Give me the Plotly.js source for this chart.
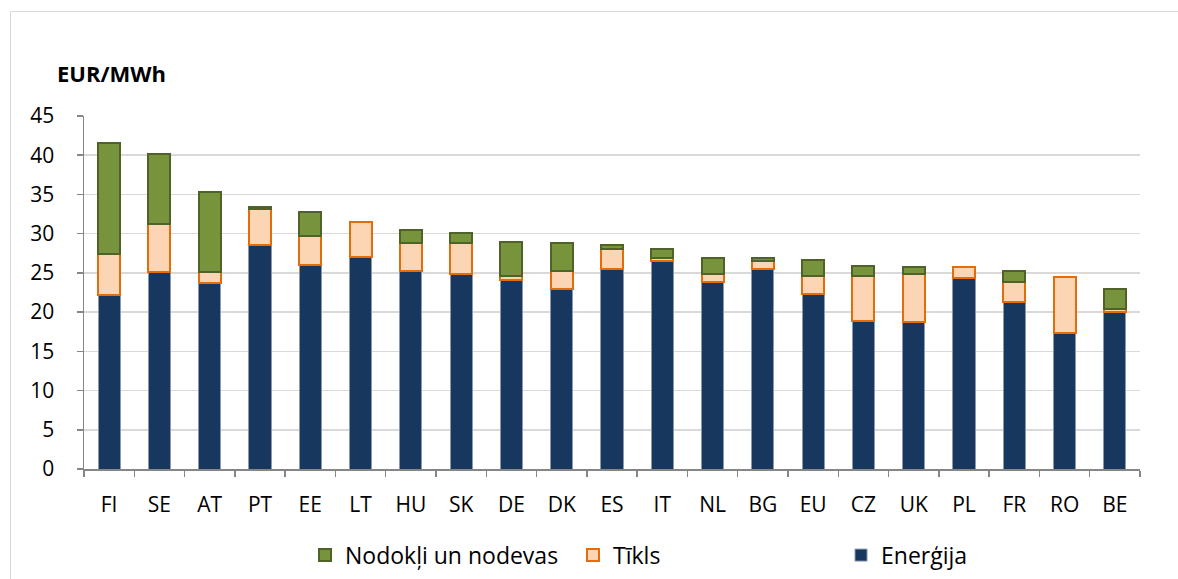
<!DOCTYPE html>
<html>
<head>
<meta charset="utf-8">
<script src="https://cdn.plot.ly/plotly-3.0.1.min.js"></script>
<style>
html,body{margin:0;padding:0;background:#fff;}
#wrap{position:relative;width:1178px;height:579px;}
#chart{width:1178px;height:579px;}
#frame{position:absolute;left:10px;top:11px;width:1180px;height:600px;border:1.5px solid #d9d9d9;pointer-events:none;box-sizing:border-box;}
</style>
</head>
<body>
<div id="wrap"><div id="chart"></div><div id="frame"></div></div>
<script>
const countries = ["FI","SE","AT","PT","EE","LT","HU","SK","DE","DK","ES","IT","NL","BG","EU","CZ","UK","PL","FR","RO","BE"];
const energija = [22.2,25.1,23.65,28.5,26.0,27.0,25.25,24.8,24.15,22.9,25.5,26.5,23.8,25.45,22.25,18.9,18.7,24.35,21.35,17.35,20.0];
const tikls = [5.25,6.1,1.45,4.7,3.7,4.5,3.55,4.0,0.45,2.3,2.5,0.4,1.05,1.05,2.3,5.75,6.15,1.35,2.55,7.1,0.4];
const nodokli = [14.05,8.9,10.15,0.15,3.0,null,1.7,1.3,4.3,3.55,0.6,1.2,2.05,0.4,2.15,1.25,0.95,null,1.3,null,2.55];
const seriesNames = ["Enerģija","Tīkls","Nodokļi un nodevas"];
const yTicks = [0,5,10,15,20,25,30,35,40,45];
const unitLabel = "EUR/MWh";

const font = "'Open Sans', Lato, sans-serif";
const traces = [
  {type:"bar", name:seriesNames[0], x:countries, y:energija,
   marker:{color:"#17375e", line:{color:"#8a99ad", width:1}}, hoverinfo:"skip"},
  {type:"bar", name:seriesNames[1], x:countries, y:tikls,
   marker:{color:"#fcd5b5", line:{color:"#e46c0a", width:2}}, hoverinfo:"skip"},
  {type:"bar", name:seriesNames[2], x:countries, y:nodokli,
   marker:{color:"#77933c", line:{color:"#4f6228", width:2}}, hoverinfo:"skip"}
];
const layout = {
  width:1178, height:579,
  margin:{l:84, r:38, t:116, b:110, autoexpand:false},
  paper_bgcolor:"#fff", plot_bgcolor:"#fff",
  barmode:"stack", bargap:0.56,
  font:{family:font, size:21, color:"#000"},
  showlegend:true,
  legend:{orientation:"h", traceorder:"reversed", x:0.2093, xanchor:"left", y:-0.244, yanchor:"middle",
          font:{family:font, size:23, color:"#000"}, entrywidth:223, itemwidth:30},
  xaxis:{type:"category", showline:true, linecolor:"#868686", linewidth:1.5,
         ticks:"outside", tickson:"boundaries", ticklen:6, tickcolor:"#868686", tickwidth:1.5,
         showgrid:false, tickfont:{family:font, size:21}, ticklabelstandoff:16},
  yaxis:{range:[0,45], tickvals:yTicks, showline:true, linecolor:"#868686", linewidth:1.5,
         ticks:"outside", ticklen:6, tickcolor:"#868686", tickwidth:1.5,
         gridcolor:"#d9d9d9", gridwidth:1.5, zeroline:false, tickfont:{family:font, size:21}, ticklabelstandoff:18},
  annotations:[{text:"<b>"+unitLabel+"</b>", xref:"paper", yref:"paper", x:-0.0275, xanchor:"left",
                y:1.122, yanchor:"middle", showarrow:false, font:{family:font, size:22, color:"#000"}}]
};
Plotly.newPlot("chart", traces, layout, {displayModeBar:false, staticPlot:true});
</script>
</body>
</html>
